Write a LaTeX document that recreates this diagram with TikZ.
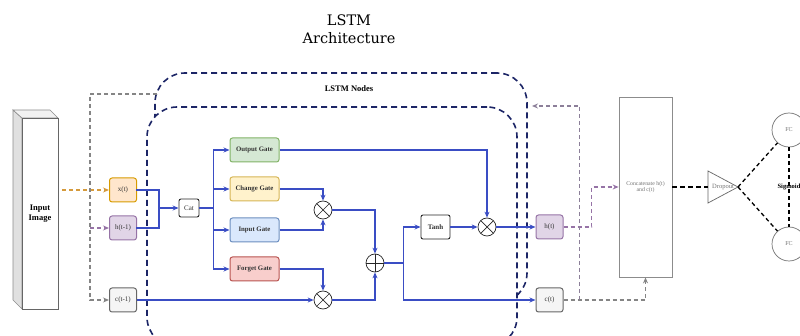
\documentclass[tikz,border=0pt]{standalone}
\usepackage{fontspec}
\setmainfont{Liberation Serif}
\newfontfamily\titlefont{DejaVu Serif}
\usepackage{tikz}
\usetikzlibrary{arrows.meta,
                calc,
                positioning,
                shapes.geometric}

\definecolor{xfill}{HTML}{FFE6CC}
\definecolor{xdraw}{HTML}{D79B00}
\definecolor{hfill}{HTML}{E1D5E7}
\definecolor{hdraw}{HTML}{9673A6}
\definecolor{cfill}{HTML}{F5F5F5}
\definecolor{cdraw}{HTML}{666666}
\definecolor{ofill}{HTML}{D5E8D4}
\definecolor{odraw}{HTML}{82B366}
\definecolor{gfill}{HTML}{FFF2CC}
\definecolor{gdraw}{HTML}{D6B656}
\definecolor{ifill}{HTML}{DAE8FC}
\definecolor{idraw}{HTML}{6C8EBF}
\definecolor{ffill}{HTML}{F8CECC}
\definecolor{fdraw}{HTML}{B85450}
\definecolor{navy}{HTML}{1C2566}
\definecolor{flowblue}{HTML}{3A4DC4}
\definecolor{labelgrey}{HTML}{333333}
\definecolor{backline}{HTML}{8C7F99}
\definecolor{inorange}{HTML}{D59A3C}

\begin{document}
\begin{tikzpicture}[x=1pt,y=-1pt,
    cell/.style 2 args={draw=#2,fill=#1,line width=1pt,rounded corners=2.5pt,
      minimum width=27pt,minimum height=24pt,inner sep=1pt,
      font=\fontsize{7}{8}\selectfont\color{labelgrey}},
    gate/.style 2 args={draw=#2,fill=#1,line width=1pt,rounded corners=2.5pt,
      minimum width=49pt,minimum height=24pt,inner sep=1pt,
      font=\fontsize{6.8}{8}\selectfont\bfseries\color{labelgrey}},
    plainbox/.style={draw=black!85,fill=white,line width=0.9pt,rounded corners=2pt,
      inner sep=1pt,font=\fontsize{7}{8}\selectfont\color{labelgrey}},
    mult/.style={circle,draw=black!85,fill=white,minimum size=18pt,inner sep=0pt,line width=0.7pt,
      path picture={\draw[black!85,line width=0.7pt]
        (path picture bounding box.north west) -- (path picture bounding box.south east)
        (path picture bounding box.south west) -- (path picture bounding box.north east);}},
    plus/.style={circle,draw=black!85,fill=white,minimum size=18pt,inner sep=0pt,line width=0.7pt,
      path picture={\draw[black!85,line width=0.7pt]
        (path picture bounding box.north) -- (path picture bounding box.south)
        (path picture bounding box.west) -- (path picture bounding box.east);}},
    fc/.style={circle,draw=black!55,fill=white,line width=0.7pt,minimum size=34pt,inner sep=0pt,
      font=\fontsize{6}{7}\selectfont\color{black!55}},
    container/.style={draw=navy,line width=1.6pt,dash pattern=on 6pt off 4pt,rounded corners=30pt},
    wire/.style={draw=flowblue,line width=1.4pt,line cap=rect},
    flow/.style={draw=flowblue,line width=1.4pt,-{Stealth[length=6pt,width=5pt]}},
    dashline/.style={draw=#1,line width=1.4pt,dash pattern=on 4pt off 3pt,-{Stealth[length=6pt,width=5pt]}},
    headline/.style={black,line width=1.3pt,dash pattern=on 4pt off 3pt}]
  \useasboundingbox (0,0) rectangle (800,336);

  \node[font=\fontsize{14.5}{18}\selectfont\titlefont,align=center] (title) at (349,29) {LSTM\\Architecture};

  \node[container,minimum width=372pt,minimum height=230pt] (outer) at (341,188) {};
  \node[container,fill=white,minimum width=370pt,minimum height=240pt] (inner) at (332,227) {};
  \node[font=\fontsize{8.5}{10}\selectfont\bfseries] (nodes) at (349,89) {LSTM Nodes};

  \filldraw[draw=black!45,fill=black!12,line width=0.6pt] (13,110) -- (22,118) -- (22,309) -- (13,300) -- cycle;
  \filldraw[draw=black!45,fill=black!5,line width=0.6pt] (13,110) -- (50,110) -- (58,118) -- (22,118) -- cycle;
  \node[draw=black!60,fill=white,line width=0.7pt,minimum width=36pt,minimum height=191pt,inner sep=0pt,
    align=center,font=\fontsize{8.5}{10}\selectfont\bfseries] (img) at (40,213.5) {Input\\Image};

  \node[cell={xfill}{xdraw}] (xt) at (123,190) {x(t)};
  \node[cell={hfill}{hdraw}] (hprev) at (123,228) {h(t-1)};
  \node[cell={cfill}{cdraw}] (cprev) at (123,300) {c(t-1)};
  \node[plainbox,minimum width=20pt,minimum height=18pt] (cat) at (189,208) {Cat};

  \foreach \g/\txt/\y/\f/\d in {outg/Output Gate/150/ofill/odraw,
                                chg/Change Gate/189/gfill/gdraw,
                                ing/Input Gate/230/ifill/idraw,
                                fgt/Forget Gate/269/ffill/fdraw}{%
    \node[gate={\f}{\d}] (\g) at (254.5,\y) {\txt};
  }

  \node[mult] (m1) at (323,210) {};
  \node[mult] (m2) at (323,300) {};
  \node[plus] (add) at (375,263) {};
  \node[plainbox,minimum width=29pt,minimum height=24pt] (tanh) at (435.5,227) {\bfseries Tanh};
  \node[mult] (m3) at (487,227) {};
  \node[cell={hfill}{hdraw}] (ht) at (549.5,227) {h(t)};
  \node[cell={cfill}{cdraw}] (ct) at (549.5,300) {c(t)};

  \node[draw=black!45,line width=0.8pt,minimum width=53pt,minimum height=180pt,inner sep=0pt] (concat) at (645.5,187) {};
  \node[align=center,font=\fontsize{5.8}{6.5}\selectfont\color{black!55}] (concattxt) at (645.5,187) {Concatenate h(t)\\and c(t)};
  \coordinate (dropbase) at (708,187);
  \coordinate (droptip) at (738,187);
  \draw[black!60,line width=0.7pt] (708,171) -- (droptip) -- (708,203) -- cycle;
  \node[font=\fontsize{6.5}{7}\selectfont\color{black!55}] (drop) at (723,187) {Dropout};
  \node[fc] (fc1) at (789,130) {FC};
  \node[fc] (fc2) at (789,244) {FC};

  \coordinate (loopin) at (157,94);
  \coordinate (lbus) at (90,94);
  \coordinate (loopout) at (532,106);

  \draw[dashline=inorange] ($(img.east |- xt)+(4,0)$) -- (xt);
  \draw[dashline=cdraw!80] (loopin) -- (lbus) |- (cprev);
  \draw[dashline=hdraw] (lbus |- hprev) -- (hprev);

  \draw[wire] (xt.east) -- ++(22,0) coordinate (xsplit) |- (hprev.east);
  \draw[flow] (xsplit |- cat) -- (cat);
  \draw[wire] (cat.east) -- ++(14,0) coordinate (catsplit);
  \draw[wire] (catsplit |- outg) -- (catsplit |- fgt);
  \foreach \g in {outg,chg,ing,fgt}{%
    \draw[flow] (catsplit |- \g) -- (\g);
  }
  \draw[flow] (outg.east) -| (m3.north);
  \draw[flow] (chg.east) -| (m1.north);
  \draw[flow] (ing.east) -| (m1.south);
  \draw[flow] (fgt.east) -| (m2.north);
  \draw[flow] (cprev) -- (m2);
  \draw[flow] (m1.east) -| (add.north);
  \draw[flow] (m2.east) -| (add.south);
  \draw[wire] (add.east) -- ++(19,0) coordinate (addsplit);
  \draw[wire] (addsplit |- tanh) -- (addsplit |- ct);
  \draw[flow] (addsplit |- tanh) -- (tanh);
  \draw[flow] (addsplit |- ct) -- (ct);
  \draw[flow] (tanh) -- (m3);
  \draw[flow] (m3) -- (ht);

  \draw[dashline=hdraw] (ht.east) -- ++(28,0) |- (concat.west);
  \draw[dashline=cdraw!80] (ct.east) -| (concat.south);
  \draw[dashline=backline] ($(ct.east)+(16,0)$) |- (loopout);

  \draw[black,line width=2pt,dash pattern=on 5pt off 3pt] (concat.east) -- (dropbase);
  \draw[headline] (droptip) -- (fc1);
  \draw[headline] (droptip) -- (fc2);
  \draw[headline] (fc1) -- (fc2)
    node[midway,font=\fontsize{6.5}{7}\selectfont\bfseries\color{labelgrey}] (sig) {Sigmoid};
\end{tikzpicture}
\end{document}
